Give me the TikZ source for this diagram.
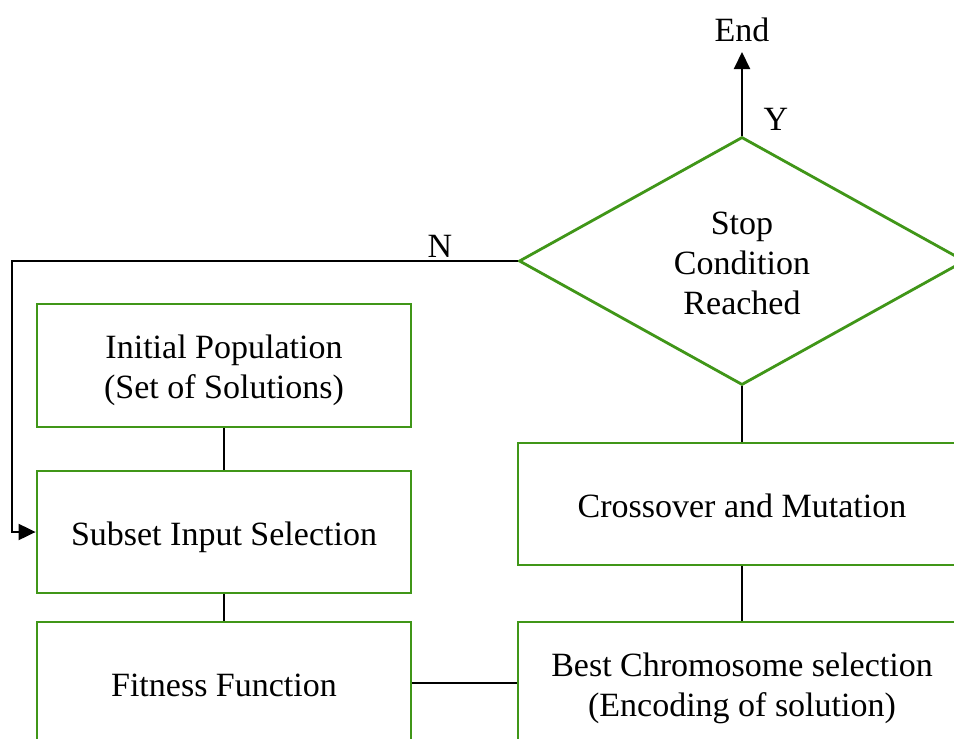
\documentclass[tikz,border=0pt]{standalone}
\usepackage{fontspec}
\setmainfont{Liberation Serif}
\usetikzlibrary{shapes.geometric,arrows.meta}
\definecolor{boxgreen}{RGB}{64,150,24}
% centred lines, set a little below the geometric middle of their node
\newcommand\boxtext[1]{\raisebox{-5pt}[\height][\depth]{\begin{tabular}{@{}c@{}}#1\end{tabular}}}
\begin{document}
\begin{tikzpicture}[x=1pt,y=-1pt,
  every node/.style={font=\fontsize{34}{40}\selectfont},
  procbox/.style={draw=boxgreen,line width=2.8pt,rectangle,inner sep=0pt},
  decision/.style={draw=boxgreen,line width=2.8pt,diamond,shape aspect=1.8,inner sep=0pt,
    minimum width=446pt,minimum height=248pt},
  link/.style={draw=black,line width=2pt},
  arrowlink/.style={link,-{Triangle[length=17pt,width=16pt]}},
  lbl/.style={inner sep=0pt}]
\useasboundingbox (0,0) rectangle (954,739);
\clip (0,0) rectangle (954,739);
\fill[white] (0,0) rectangle (954,739);

% process boxes
\node[procbox,minimum width=374pt,minimum height=123pt] (init) at (224,365.5)
  {\boxtext{Initial Population\\(Set of Solutions)}};
\node[procbox,minimum width=374pt,minimum height=122pt] (subset) at (224,532)
  {\boxtext{Subset Input Selection}};
\node[procbox,minimum width=374pt,minimum height=122pt] (fit) at (224,683)
  {\boxtext{Fitness Function}};
\node[procbox,minimum width=448pt,minimum height=122pt] (cross) at (742,504)
  {\boxtext{Crossover and Mutation}};
\node[procbox,minimum width=448pt,minimum height=122pt] (best) at (742,683)
  {\boxtext{Best Chromosome selection\\(Encoding of solution)}};

% stop test
\node[decision] (stop) at (742,261) {\boxtext{Stop\\Condition\\Reached}};

% end marker
\node[lbl] (end) at (742,30) {End};
\coordinate (endtip) at (742,52);

% connectors
\draw[link] (init.south) -- (subset.north);
\draw[link] (subset.south) -- (fit.north);
\draw[link] (fit.east |- best.west) -- (best.west);
\draw[link] (best.north) -- (cross.north |- cross.south);
\draw[link] (cross.north) -- (stop.south);
\draw[arrowlink] (stop.north) -- (endtip);
\coordinate (ncorner) at (12,261);
\draw[arrowlink] (stop.west) -- (ncorner) |- (subset.west);

% branch labels
\node[lbl] (ylbl) at (776,119) {Y};
\node[lbl] (nlbl) at (440,246) {N};
\end{tikzpicture}
\end{document}
